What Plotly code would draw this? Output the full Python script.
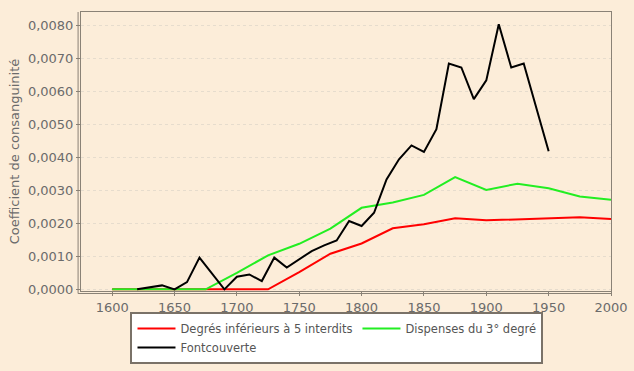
import plotly.graph_objects as go

# Data
years_black = [1620, 1630, 1640, 1650, 1660, 1670, 1680, 1690, 1700, 1710, 1720, 1730, 1740,
               1750, 1760, 1770, 1780, 1790, 1800, 1810, 1820, 1830, 1840, 1850, 1860, 1870,
               1880, 1890, 1900, 1910, 1920, 1930, 1940, 1950]
fontcouverte = [0.0, 0.00005, 0.00012, 0.0, 0.00022, 0.00096, 0.00048, 0.0, 0.00038, 0.00045,
                0.00025, 0.00096, 0.00066, 0.00092, 0.00116, 0.00133, 0.00148, 0.00207, 0.00192,
                0.00232, 0.00333, 0.00394, 0.00436, 0.00416, 0.00485, 0.00684, 0.00672, 0.00576,
                0.00633, 0.00803, 0.00672, 0.00684, 0.0055, 0.00418]

years_25 = [1600, 1625, 1650, 1675, 1700, 1725, 1750, 1775, 1800, 1825, 1850, 1875, 1900,
            1925, 1950, 1975, 2000]
degres_inf5 = [0.0, 0.0, 0.0, 0.0, 0.0, 0.0, 0.00052, 0.00108, 0.00139, 0.00185, 0.00197,
               0.00215, 0.00209, 0.00212, 0.00216, 0.00218, 0.00213]

years_green = [1600, 1625, 1650, 1675, 1700, 1725, 1750, 1775, 1800, 1825, 1850, 1875, 1900,
               1910, 1925, 1950, 1975, 2000]
dispenses_3 = [0.0, 0.0, 0.0, 0.0, 0.0005, 0.00103, 0.00138, 0.00184, 0.00247, 0.00263,
               0.00286, 0.0034, 0.00301, 0.00308, 0.0032, 0.00306, 0.00281, 0.00271]

bg = "#FCEDD9"
grey_text = "#6b6b6b"
axis_col = "#8a8276"

fig = go.Figure()
fig.add_trace(go.Scatter(x=years_25, y=degres_inf5, mode="lines",
                         name="Degrés inférieurs à 5 interdits",
                         line=dict(color="#FF0000", width=2)))
fig.add_trace(go.Scatter(x=years_green, y=dispenses_3, mode="lines",
                         name="Dispenses du 3° degré",
                         line=dict(color="#22EE22", width=2)))
fig.add_trace(go.Scatter(x=years_black, y=fontcouverte, mode="lines",
                         name="Fontcouverte",
                         line=dict(color="#000000", width=2)))

# second line of the doubled left / bottom axes
fig.add_shape(type="line", xref="paper", yref="paper", x0=-0.0055, x1=-0.0055, y0=-0.009, y1=1,
              line=dict(color=axis_col, width=1))
fig.add_shape(type="line", xref="paper", yref="paper", x0=-0.0055, x1=1, y0=-0.009, y1=-0.009,
              line=dict(color=axis_col, width=1))

fig.update_layout(
    width=634, height=371,
    paper_bgcolor=bg, plot_bgcolor=bg,
    margin=dict(l=81, r=23, t=12, b=80),
    separators=", ",
    font=dict(family="DejaVu Sans", size=13, color=grey_text),
    showlegend=True,
    legend=dict(orientation="h", x=0.483, xanchor="center",
                yref="container", y=0.159, yanchor="top",
                bgcolor="#FFFFFF", bordercolor="#7a7268", borderwidth=2,
                font=dict(size=11.5, color="#555555"), tracegroupgap=0,
                itemwidth=38),
    xaxis=dict(range=[1575, 2000], tick0=1600, dtick=50, showgrid=False, automargin=False,
               showline=True, linecolor=axis_col, linewidth=1, mirror=True,
               ticks="outside", ticklen=4, tickcolor=axis_col, zeroline=False,
               tickfont=dict(size=13, color=grey_text)),
    yaxis=dict(range=[-0.00005, 0.0084], dtick=0.001, tickformat=".4f", automargin=False,
               showgrid=True, gridcolor="#e6dccd", griddash="dot", gridwidth=1,
               showline=True, linecolor=axis_col, linewidth=1, mirror=True,
               ticks="outside", ticklen=4, tickcolor=axis_col, zeroline=False,
               title=dict(text="Coefficient de consanguinité", font=dict(size=13, color=grey_text),
                          standoff=5),
               tickfont=dict(size=13, color=grey_text)),
)

fig.write_html("out.html", config={"displayModeBar": False},
               post_script="document.body.style.margin='0px';document.body.style.background='" + bg + "';")
